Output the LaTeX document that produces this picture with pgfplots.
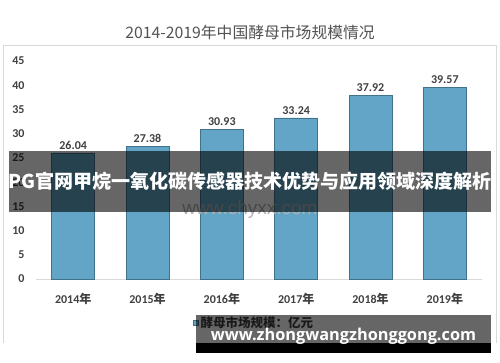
\documentclass[border=0pt]{standalone}
\usepackage{pgfplots}
\pgfplotsset{compat=1.18}
\usepackage{fontspec}
\setmainfont{Carlito}
\newfontfamily\cjk{Noto Sans CJK SC}
\newfontfamily\osans{Open Sans}
\newfontfamily\lsans{Liberation Sans}
\definecolor{barfill}{HTML}{62A5C7}
\definecolor{baredge}{HTML}{41728C}
\definecolor{txt}{HTML}{404040}
\definecolor{frame}{HTML}{D9D9D9}
\begin{document}
\begin{tikzpicture}[x=1pt,y=1pt]
\useasboundingbox (0,0) rectangle (500,362);
\draw[frame, line width=0.8pt] (3.5,19) -- (3.5,317) -- (496.5,317) -- (496.5,19);
\node[font=\cjk\fontsize{15.8}{18}\selectfont, text=txt!90] at (250,330) {2014-2019年中国酵母市场规模情况};
\begin{axis}[at={(36pt,83pt)}, anchor=south west, scale only axis,
  width=446pt, height=218pt,
  xmin=-0.5, xmax=5.5, ymin=0, ymax=45,
  ytick={0,5,...,45}, xtick={0,1,2,3,4,5},
  xticklabels={{2014{\cjk 年}},{2015{\cjk 年}},{2016{\cjk 年}},{2017{\cjk 年}},{2018{\cjk 年}},{2019{\cjk 年}}},
  axis x line*=bottom, axis y line*=left,
  y axis line style={draw=none},
  x axis line style={draw=frame, line width=0.8pt, -},
  tick style={draw=none},
  /pgf/number format/assume math mode=true,
  yticklabel style={font=\bfseries\fontsize{12}{14}\selectfont, text=txt, anchor=east, xshift=-8pt},
  xticklabel style={font=\bfseries\fontsize{12}{14}\selectfont, text=txt, yshift=-6pt},
  ybar, bar width=43pt,
  nodes near coords,
  every node near coord/.append style={font=\bfseries\fontsize{12}{14}\selectfont, text=txt,
     /pgf/number format/fixed, /pgf/number format/precision=2, /pgf/number format/fixed zerofill},
  legend style={draw=none, fill=none, at={(0.352,-0.202)}, anchor=west, inner sep=0pt,
     font=\cjk\bfseries\fontsize{12.5}{14}\selectfont, text=txt},
  legend image code/.code={\fill[barfill, draw=baredge, line width=0.4pt] (0pt,-2.5pt) rectangle (5pt,2.5pt);},
]
\addplot[fill=barfill, draw=baredge, line width=0.6pt] coordinates {(0,26.04) (1,27.38) (2,30.93) (3,33.24) (4,37.92) (5,39.57)};
\addlegendentry{酵母市场规模：亿元}
\end{axis}
\node[font=\lsans\fontsize{19}{21}\selectfont, text=gray!60, anchor=base] at (250,148) {www.chyxx.com};
\fill[black, opacity=0.6] (9,150) rectangle (491,211);
\node[font=\cjk\bfseries\fontsize{19}{22}\selectfont, text=white] at (250,180.5) {PG官网甲烷一氧化碳传感器技术优势与应用领域深度解析};
\fill[black, opacity=0.6] (196,19) rectangle (491,47);
\fill[black] (196,9) rectangle (491,19);
\node[font=\osans\bfseries\fontsize{16.3}{19}\selectfont, text=white, anchor=base] at (343.5,22) {www.zhongwangzhonggong.com};
\end{tikzpicture}
\end{document}
